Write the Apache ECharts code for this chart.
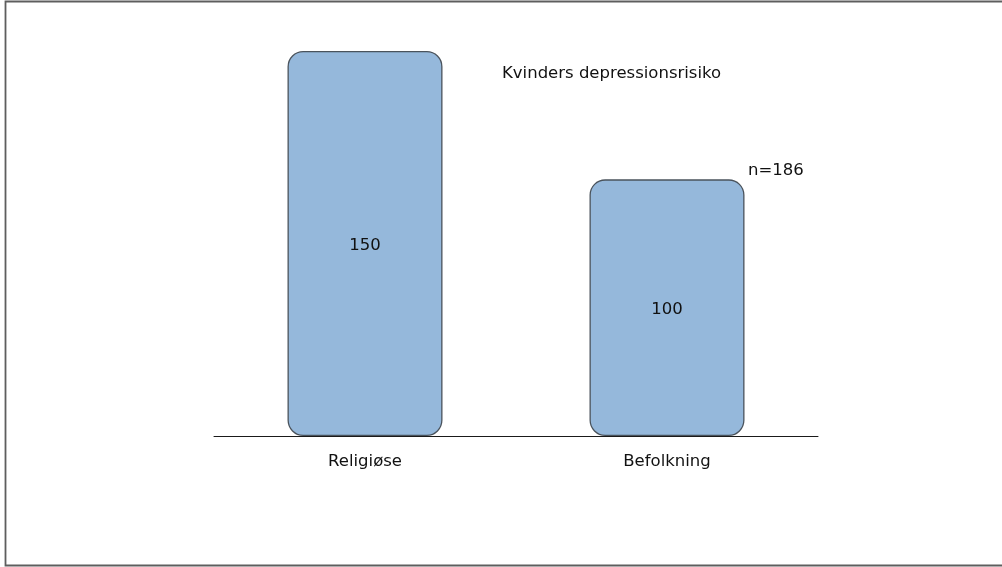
<!DOCTYPE html>
<html>
<head>
<meta charset="utf-8">
<style>
  html, body { margin: 0; padding: 0; background: #ffffff; }
  #chart { width: 1002px; height: 567px; }
</style>
<script src="https://cdn.jsdelivr.net/npm/echarts@6/dist/echarts.min.js"></script>
</head>
<body>
<div id="chart"></div>
<script>
// Women's depression risk index: religious women vs. general population
const categories = ['Religiøse', 'Befolkning'];
const riskValues = [150, 100];
const chartTitle = 'Kvinders depressionsrisiko';
const sampleNote = 'n=186';

const FONT = '"DejaVu Sans", Verdana, sans-serif';
const FONT_SIZE = 16.5;

const chart = echarts.init(document.getElementById('chart'), null, { renderer: 'canvas' });

chart.setOption({
  animation: false,
  backgroundColor: '#ffffff',
  title: {
    text: chartTitle,
    left: 502,
    top: 65,
    padding: 0,
    textStyle: { fontFamily: FONT, fontSize: FONT_SIZE, fontWeight: 'normal', color: '#111111' }
  },
  grid: { left: 214, right: 184, top: 51, bottom: 131 },
  xAxis: {
    type: 'category',
    data: categories,
    axisLine: { show: true, lineStyle: { color: '#1a1a1a', width: 1 } },
    axisTick: { show: false },
    axisLabel: { fontFamily: FONT, fontSize: FONT_SIZE, color: '#111111', margin: 17 }
  },
  yAxis: {
    type: 'value',
    min: 0,
    max: 150,
    show: false,
    splitLine: { show: false }
  },
  series: [{
    type: 'bar',
    data: riskValues,
    barWidth: 155,
    itemStyle: {
      color: '#95b8db',
      borderColor: '#4a535c',
      borderWidth: 1.3,
      borderRadius: 15
    },
    label: {
      show: true,
      position: 'inside',
      offset: [0, 2],
      fontFamily: FONT,
      fontSize: FONT_SIZE,
      color: '#111111'
    }
  }],
  graphic: [
    {
      type: 'rect',
      shape: { x: 5.5, y: 1.5, width: 1010, height: 564 },
      style: { fill: 'none', stroke: '#5e5e5e', lineWidth: 1.8 },
      silent: true
    },
    {
      type: 'text',
      x: 748,
      y: 162,
      style: { text: sampleNote, font: FONT_SIZE + 'px ' + FONT, fill: '#111111' }
    }
  ]
});
</script>
</body>
</html>
